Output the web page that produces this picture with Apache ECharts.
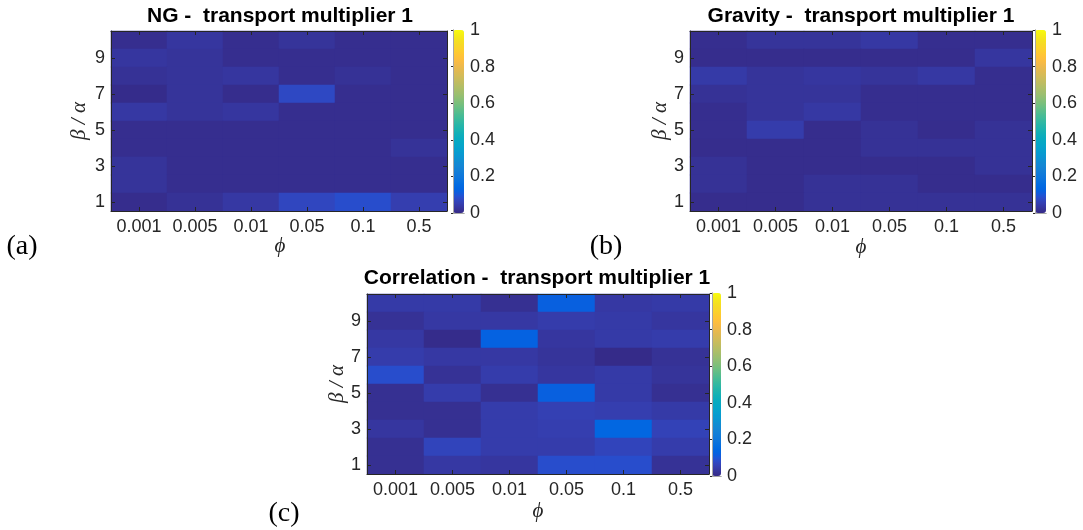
<!DOCTYPE html>
<html>
<head>
<meta charset="utf-8">
<title>transport multiplier 1</title>
<script src="https://cdn.jsdelivr.net/npm/echarts@6/dist/echarts.min.js"></script>
<style>
  html, body { margin: 0; padding: 0; background: #ffffff; }
  #chart { width: 1083px; height: 530px; }
</style>
</head>
<body>
<div id="chart"></div>
<script>
// Column categories (phi) and row categories (beta / alpha)
const phiLabels = ['0.001', '0.005', '0.01', '0.05', '0.1', '0.5'];
const ratioLabels = ['1', '2', '3', '4', '5', '6', '7', '8', '9', '10'];

// Cell values, listed from the top row (beta/alpha = 10) down to the bottom row (1)
const ngValues = [
  [0.010, 0.030, 0.010, 0.025, 0.010, 0.010],
  [0.030, 0.025, 0.010, 0.010, 0.010, 0.010],
  [0.020, 0.025, 0.030, 0.010, 0.020, 0.010],
  [0.005, 0.025, 0.008, 0.075, 0.010, 0.010],
  [0.035, 0.025, 0.030, 0.010, 0.010, 0.010],
  [0.010, 0.010, 0.010, 0.010, 0.010, 0.010],
  [0.010, 0.010, 0.010, 0.010, 0.010, 0.022],
  [0.025, 0.010, 0.010, 0.010, 0.010, 0.010],
  [0.025, 0.010, 0.010, 0.010, 0.010, 0.010],
  [0.008, 0.020, 0.035, 0.070, 0.085, 0.050]
];

const gravityValues = [
  [0.010, 0.025, 0.025, 0.035, 0.010, 0.010],
  [0.008, 0.008, 0.008, 0.008, 0.008, 0.030],
  [0.040, 0.025, 0.030, 0.025, 0.035, 0.010],
  [0.020, 0.025, 0.025, 0.010, 0.010, 0.010],
  [0.010, 0.025, 0.035, 0.010, 0.010, 0.010],
  [0.010, 0.045, 0.008, 0.020, 0.008, 0.020],
  [0.008, 0.008, 0.008, 0.020, 0.020, 0.020],
  [0.020, 0.008, 0.008, 0.008, 0.008, 0.020],
  [0.020, 0.008, 0.020, 0.020, 0.008, 0.008],
  [0.008, 0.008, 0.020, 0.020, 0.020, 0.020]
];

const correlationValues = [
  [0.040, 0.040, 0.015, 0.120, 0.035, 0.040],
  [0.020, 0.035, 0.035, 0.045, 0.040, 0.030],
  [0.035, 0.005, 0.125, 0.030, 0.040, 0.045],
  [0.045, 0.035, 0.035, 0.025, 0.003, 0.020],
  [0.085, 0.020, 0.045, 0.030, 0.040, 0.025],
  [0.015, 0.045, 0.015, 0.120, 0.040, 0.015],
  [0.015, 0.015, 0.045, 0.055, 0.050, 0.040],
  [0.030, 0.015, 0.045, 0.050, 0.140, 0.060],
  [0.015, 0.065, 0.045, 0.045, 0.065, 0.045],
  [0.015, 0.035, 0.030, 0.085, 0.085, 0.020]
];

// Colour scale limits and colourbar tick step
const colorMin = 0;
const colorMax = 1;
const colorStep = 0.2;

// parula colour map (64 entries)
const PARULA_RGB = [
  [0.2081,0.1663,0.5292],[0.2116,0.1898,0.5777],[0.2123,0.2138,0.6270],[0.2081,0.2386,0.6771],
  [0.1959,0.2645,0.7279],[0.1707,0.2919,0.7792],[0.1253,0.3242,0.8303],[0.0591,0.3598,0.8683],
  [0.0117,0.3875,0.8820],[0.0060,0.4086,0.8828],[0.0165,0.4266,0.8786],[0.0329,0.4430,0.8720],
  [0.0498,0.4586,0.8641],[0.0629,0.4737,0.8554],[0.0723,0.4887,0.8467],[0.0779,0.5040,0.8384],
  [0.0793,0.5200,0.8312],[0.0749,0.5375,0.8263],[0.0641,0.5570,0.8240],[0.0488,0.5772,0.8228],
  [0.0343,0.5966,0.8199],[0.0265,0.6137,0.8135],[0.0239,0.6287,0.8038],[0.0231,0.6418,0.7913],
  [0.0228,0.6535,0.7768],[0.0267,0.6642,0.7607],[0.0384,0.6743,0.7436],[0.0590,0.6838,0.7254],
  [0.0843,0.6928,0.7062],[0.1133,0.7015,0.6859],[0.1453,0.7098,0.6646],[0.1801,0.7177,0.6424],
  [0.2178,0.7250,0.6193],[0.2586,0.7317,0.5954],[0.3022,0.7376,0.5712],[0.3482,0.7424,0.5473],
  [0.3953,0.7459,0.5244],[0.4420,0.7481,0.5033],[0.4871,0.7491,0.4840],[0.5300,0.7491,0.4661],
  [0.5709,0.7485,0.4494],[0.6099,0.7473,0.4337],[0.6473,0.7456,0.4188],[0.6834,0.7435,0.4044],
  [0.7184,0.7411,0.3905],[0.7525,0.7384,0.3768],[0.7858,0.7356,0.3633],[0.8185,0.7327,0.3498],
  [0.8507,0.7299,0.3360],[0.8824,0.7274,0.3217],[0.9139,0.7258,0.3063],[0.9450,0.7261,0.2886],
  [0.9739,0.7314,0.2666],[0.9938,0.7455,0.2403],[0.9990,0.7653,0.2164],[0.9955,0.7861,0.1967],
  [0.9880,0.8066,0.1794],[0.9789,0.8271,0.1633],[0.9697,0.8481,0.1475],[0.9626,0.8705,0.1309],
  [0.9589,0.8949,0.1132],[0.9598,0.9218,0.0948],[0.9661,0.9514,0.0755],[0.9763,0.9831,0.0538]
];
const PARULA = PARULA_RGB.map(function (c) {
  return '#' + c.map(function (v) {
    const h = Math.round(v * 255).toString(16);
    return h.length < 2 ? '0' + h : h;
  }).join('');
});

const AXIS_COLOR = '#262626';
const LABEL_FONT = "'Liberation Sans', Arial, Helvetica, sans-serif";
const SERIF_FONT = "'Liberation Serif', 'DejaVu Serif', serif";

// Panel layout: heatmap box (whole-pixel cells), colourbar box, text anchors
const panels = [
  {
    title: 'NG -  transport multiplier 1', values: ngValues, tag: '(a)',
    box: { left: 111, top: 31, width: 336, height: 180 },
    bar: { left: 453, top: 30, width: 11, height: 183 },
    titlePos: [280, 16], yLabelPos: [79, 121], xLabelPos: [280, 246], tagPos: [22, 247]
  },
  {
    title: 'Gravity -  transport multiplier 1', values: gravityValues, tag: '(b)',
    box: { left: 690, top: 31, width: 342, height: 180 },
    bar: { left: 1035, top: 30, width: 11, height: 183 },
    titlePos: [861, 16], yLabelPos: [660, 121], xLabelPos: [861, 247], tagPos: [606, 247]
  },
  {
    title: 'Correlation -  transport multiplier 1', values: correlationValues, tag: '(c)',
    box: { left: 367, top: 294, width: 342, height: 180 },
    bar: { left: 712, top: 293, width: 9, height: 183 },
    titlePos: [537, 278], yLabelPos: [337, 384], xLabelPos: [538, 511], tagPos: [284, 514]
  }
];

function toCells(rowsTopDown) {
  const cells = [];
  const n = rowsTopDown.length;
  rowsTopDown.forEach(function (row, r) {
    row.forEach(function (v, c) {
      cells.push([c, n - 1 - r, v]);
    });
  });
  return cells;
}

const grids = [], xAxes = [], yAxes = [], series = [], visualMaps = [], graphics = [];

function frameAxisLine() {
  return { show: true, lineStyle: { color: AXIS_COLOR, width: 1 } };
}

panels.forEach(function (p) {
  // heatmap grid
  const g = grids.length;
  grids.push({ left: p.box.left, top: p.box.top, width: p.box.width, height: p.box.height, containLabel: false });

  const xBottom = xAxes.length;
  xAxes.push({
    type: 'category', gridIndex: g, position: 'bottom', data: phiLabels, z: 5,
    axisLine: frameAxisLine(),
    axisTick: { show: true, inside: true, alignWithLabel: true, interval: 0, length: 4, lineStyle: { color: AXIS_COLOR } },
    axisLabel: { show: true, interval: 0, hideOverlap: false, margin: 7, fontSize: 18, color: AXIS_COLOR, fontFamily: LABEL_FONT },
    splitLine: { show: false }
  });
  xAxes.push({
    type: 'category', gridIndex: g, position: 'top', data: phiLabels, z: 5,
    axisLine: frameAxisLine(),
    axisTick: { show: true, inside: true, alignWithLabel: true, interval: 0, length: 4, lineStyle: { color: AXIS_COLOR } },
    axisLabel: { show: false }, splitLine: { show: false }
  });

  const yLeft = yAxes.length;
  yAxes.push({
    type: 'category', gridIndex: g, position: 'left', data: ratioLabels, z: 5,
    axisLine: frameAxisLine(),
    axisTick: { show: true, inside: true, alignWithLabel: true, interval: 1, length: 4, lineStyle: { color: AXIS_COLOR } },
    axisLabel: { show: true, interval: 1, margin: 6, fontSize: 18, color: AXIS_COLOR, fontFamily: LABEL_FONT },
    splitLine: { show: false }
  });
  yAxes.push({
    type: 'category', gridIndex: g, position: 'right', data: ratioLabels, z: 5,
    axisLine: frameAxisLine(),
    axisTick: { show: true, inside: true, alignWithLabel: true, interval: 1, length: 4, lineStyle: { color: AXIS_COLOR } },
    axisLabel: { show: false }, splitLine: { show: false }
  });

  const sIdx = series.length;
  series.push({
    type: 'heatmap', xAxisIndex: xBottom, yAxisIndex: yLeft,
    data: toCells(p.values),
    itemStyle: { borderWidth: 0 },
    emphasis: { disabled: true },
    progressive: 0
  });

  // colourbar: gradient from visualMap, frame and ticks from a value axis grid
  visualMaps.push({
    type: 'continuous', seriesIndex: sIdx, min: colorMin, max: colorMax,
    calculable: false, hoverLink: false, realtime: false,
    orient: 'vertical', left: p.bar.left, top: p.bar.top,
    itemWidth: p.bar.width, itemHeight: p.bar.height,
    padding: 0, text: null, textStyle: { fontSize: 0 },
    inRange: { color: PARULA }, z: 1
  });

  const cg = grids.length;
  grids.push({ left: p.bar.left, top: p.bar.top, width: p.bar.width, height: p.bar.height });
  xAxes.push({
    type: 'value', gridIndex: cg, position: 'bottom', min: 0, max: 1, z: 6,
    axisLine: { show: true, lineStyle: { color: '#a6a6a6' } },
    axisTick: { show: false }, axisLabel: { show: false }, splitLine: { show: false }
  });
  xAxes.push({
    type: 'value', gridIndex: cg, position: 'top', min: 0, max: 1, z: 6,
    axisLine: { show: true, lineStyle: { color: '#a6a6a6' } },
    axisTick: { show: false }, axisLabel: { show: false }, splitLine: { show: false }
  });
  yAxes.push({
    type: 'value', gridIndex: cg, position: 'left', min: colorMin, max: colorMax, interval: colorStep, z: 6,
    axisLine: { show: true, lineStyle: { color: '#a6a6a6' } },
    axisTick: { show: false }, axisLabel: { show: false }, splitLine: { show: false }
  });
  yAxes.push({
    type: 'value', gridIndex: cg, position: 'right', min: colorMin, max: colorMax, interval: colorStep, z: 6,
    axisLine: { show: true, lineStyle: { color: '#a6a6a6' } },
    axisTick: { show: true, inside: true, length: 2, lineStyle: { color: AXIS_COLOR } },
    axisLabel: { show: true, margin: 6, fontSize: 18, color: AXIS_COLOR, fontFamily: LABEL_FONT },
    splitLine: { show: false }
  });

  // titles and axis names
  graphics.push({
    type: 'text', x: p.titlePos[0], y: p.titlePos[1], silent: true,
    style: {
      text: p.title, fill: '#000000',
      font: "bold 21px " + LABEL_FONT,
      align: 'center', verticalAlign: 'middle', textAlign: 'center', textVerticalAlign: 'middle'
    }
  });
  graphics.push({
    type: 'text', x: p.yLabelPos[0], y: p.yLabelPos[1], rotation: Math.PI / 2, silent: true,
    style: {
      text: 'β / α', fill: '#262626',
      font: "italic 21px " + SERIF_FONT,
      align: 'center', verticalAlign: 'middle', textAlign: 'center', textVerticalAlign: 'middle'
    }
  });
  graphics.push({
    type: 'text', x: p.xLabelPos[0], y: p.xLabelPos[1], silent: true,
    style: {
      text: 'ϕ', fill: '#262626',
      font: "italic 21px " + SERIF_FONT,
      align: 'center', verticalAlign: 'middle', textAlign: 'center', textVerticalAlign: 'middle'
    }
  });
  graphics.push({
    type: 'text', x: p.tagPos[0], y: p.tagPos[1], silent: true,
    style: {
      text: p.tag, fill: '#000000',
      font: "28px " + SERIF_FONT,
      align: 'center', verticalAlign: 'middle', textAlign: 'center', textVerticalAlign: 'middle'
    }
  });
});

const chart = echarts.init(document.getElementById('chart'), null, { renderer: 'canvas' });
chart.setOption({
  animation: false,
  backgroundColor: '#ffffff',
  grid: grids,
  xAxis: xAxes,
  yAxis: yAxes,
  visualMap: visualMaps,
  series: series,
  graphic: graphics
});
</script>
</body>
</html>
